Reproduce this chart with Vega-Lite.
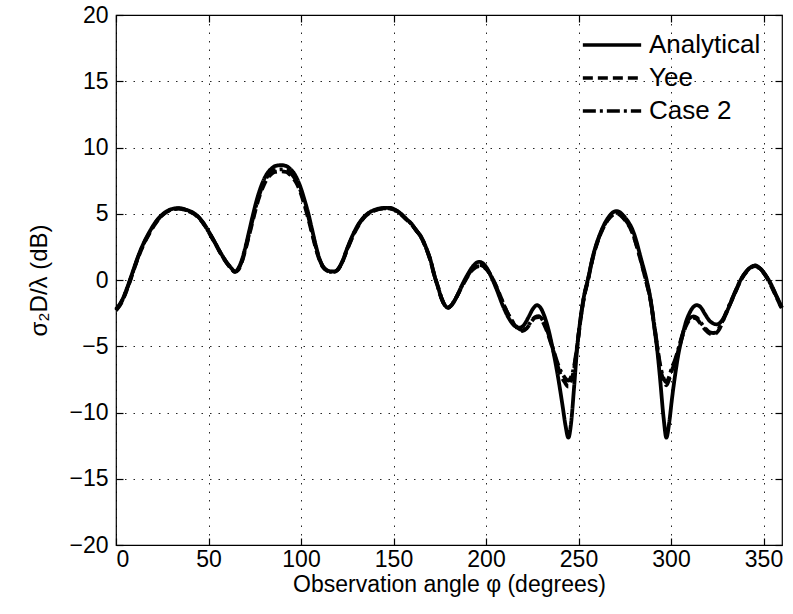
{
  "$schema": "https://vega.github.io/schema/vega-lite/v6.json",
  "width": 666,
  "height": 530,
  "autosize": {"type": "none"},
  "padding": {"left": 116, "top": 15, "right": 11, "bottom": 69},
  "background": "white",
  "config": {
    "view": {"stroke": "black", "strokeWidth": 1.2},
    "font": "Liberation Sans",
    "axis": {
      "labelFont": "Liberation Sans", "labelFontSize": 23, "labelColor": "black",
      "titleFont": "Liberation Sans", "titleFontSize": 23, "titleFontWeight": "normal", "titleColor": "black",
      "domain": false, "tickColor": "black", "tickSize": -7, "tickWidth": 1.2,
      "gridColor": "black", "gridDash": [1.5, 7], "gridWidth": 1, "gridOpacity": 0.85
    },
    "legend": {
      "orient": "none", "legendX": 465, "legendY": 18,
      "labelFont": "Liberation Sans", "labelFontSize": 26, "labelColor": "black",
      "symbolType": "stroke", "symbolSize": 3400, "symbolStrokeWidth": 3.5, "symbolStrokeColor": "black",
      "clipHeight": 24, "rowPadding": 7, "labelOffset": 6
    }
  },
  "datasets": {
    "curves": [
      {"series":"Analytical","phi":0,"rcs":-2.2},{"series":"Analytical","phi":3,"rcs":-1.6},{"series":"Analytical","phi":6,"rcs":-0.6},{"series":"Analytical","phi":9,"rcs":0.6},{"series":"Analytical","phi":12,"rcs":1.8},{"series":"Analytical","phi":15,"rcs":2.8},{"series":"Analytical","phi":18,"rcs":3.6},{"series":"Analytical","phi":21,"rcs":4.3},{"series":"Analytical","phi":24,"rcs":4.8},{"series":"Analytical","phi":27,"rcs":5.15},{"series":"Analytical","phi":30,"rcs":5.35},{"series":"Analytical","phi":33.8,"rcs":5.42},{"series":"Analytical","phi":39,"rcs":5.25},{"series":"Analytical","phi":42,"rcs":5.05},{"series":"Analytical","phi":45,"rcs":4.7},{"series":"Analytical","phi":48,"rcs":4.15},{"series":"Analytical","phi":51,"rcs":3.45},{"series":"Analytical","phi":54,"rcs":2.7},{"series":"Analytical","phi":57,"rcs":1.95},{"series":"Analytical","phi":60,"rcs":1.3},{"series":"Analytical","phi":62,"rcs":0.95},{"series":"Analytical","phi":64.3,"rcs":0.65},{"series":"Analytical","phi":66,"rcs":0.85},{"series":"Analytical","phi":68,"rcs":1.5},{"series":"Analytical","phi":70,"rcs":2.5},{"series":"Analytical","phi":72,"rcs":3.7},{"series":"Analytical","phi":74,"rcs":4.9},{"series":"Analytical","phi":76,"rcs":6.0},{"series":"Analytical","phi":78,"rcs":6.9},{"series":"Analytical","phi":80,"rcs":7.6},{"series":"Analytical","phi":82,"rcs":8.1},{"series":"Analytical","phi":84,"rcs":8.4},{"series":"Analytical","phi":86,"rcs":8.6},{"series":"Analytical","phi":89.4,"rcs":8.67},{"series":"Analytical","phi":92,"rcs":8.6},{"series":"Analytical","phi":94,"rcs":8.4},{"series":"Analytical","phi":96,"rcs":8.1},{"series":"Analytical","phi":98,"rcs":7.6},{"series":"Analytical","phi":100,"rcs":6.9},{"series":"Analytical","phi":102,"rcs":6.0},{"series":"Analytical","phi":104,"rcs":5.0},{"series":"Analytical","phi":106,"rcs":3.8},{"series":"Analytical","phi":108,"rcs":2.6},{"series":"Analytical","phi":110,"rcs":1.6},{"series":"Analytical","phi":112,"rcs":1.0},{"series":"Analytical","phi":114,"rcs":0.75},{"series":"Analytical","phi":116,"rcs":0.65},{"series":"Analytical","phi":118,"rcs":0.65},{"series":"Analytical","phi":120,"rcs":0.8},{"series":"Analytical","phi":122,"rcs":1.3},{"series":"Analytical","phi":125,"rcs":2.4},{"series":"Analytical","phi":128,"rcs":3.4},{"series":"Analytical","phi":131,"rcs":4.2},{"series":"Analytical","phi":134,"rcs":4.75},{"series":"Analytical","phi":137,"rcs":5.1},{"series":"Analytical","phi":140,"rcs":5.3},{"series":"Analytical","phi":144,"rcs":5.43},{"series":"Analytical","phi":147.5,"rcs":5.45},{"series":"Analytical","phi":151,"rcs":5.3},{"series":"Analytical","phi":154,"rcs":5.0},{"series":"Analytical","phi":157,"rcs":4.6},{"series":"Analytical","phi":160,"rcs":4.2},{"series":"Analytical","phi":162,"rcs":3.8},{"series":"Analytical","phi":165,"rcs":3.25},{"series":"Analytical","phi":168,"rcs":2.3},{"series":"Analytical","phi":170,"rcs":1.5},{"series":"Analytical","phi":172,"rcs":0.4},{"series":"Analytical","phi":174,"rcs":-0.5},{"series":"Analytical","phi":176,"rcs":-1.4},{"series":"Analytical","phi":178,"rcs":-1.95},{"series":"Analytical","phi":179.3,"rcs":-2.08},{"series":"Analytical","phi":181,"rcs":-1.95},{"series":"Analytical","phi":184,"rcs":-1.3},{"series":"Analytical","phi":187,"rcs":-0.4},{"series":"Analytical","phi":190,"rcs":0.4},{"series":"Analytical","phi":193,"rcs":1.05},{"series":"Analytical","phi":196.3,"rcs":1.37},{"series":"Analytical","phi":200,"rcs":1.0},{"series":"Analytical","phi":203,"rcs":0.2},{"series":"Analytical","phi":206,"rcs":-0.8},{"series":"Analytical","phi":209,"rcs":-1.9},{"series":"Analytical","phi":212,"rcs":-2.8},{"series":"Analytical","phi":215,"rcs":-3.4},{"series":"Analytical","phi":218,"rcs":-3.6},{"series":"Analytical","phi":220.5,"rcs":-3.4},{"series":"Analytical","phi":223,"rcs":-2.8},{"series":"Analytical","phi":225.5,"rcs":-2.15},{"series":"Analytical","phi":227.5,"rcs":-1.9},{"series":"Analytical","phi":229.5,"rcs":-2.1},{"series":"Analytical","phi":231.5,"rcs":-2.7},{"series":"Analytical","phi":233.5,"rcs":-3.6},{"series":"Analytical","phi":235.5,"rcs":-4.8},{"series":"Analytical","phi":237.5,"rcs":-6.2},{"series":"Analytical","phi":239.5,"rcs":-7.8},{"series":"Analytical","phi":241.5,"rcs":-9.6},{"series":"Analytical","phi":243,"rcs":-11.0},{"series":"Analytical","phi":244.5,"rcs":-11.9},{"series":"Analytical","phi":246,"rcs":-10.8},{"series":"Analytical","phi":247.5,"rcs":-8.3},{"series":"Analytical","phi":249.3,"rcs":-5.1},{"series":"Analytical","phi":251,"rcs":-3.0},{"series":"Analytical","phi":253,"rcs":-1.2},{"series":"Analytical","phi":255,"rcs":0.0},{"series":"Analytical","phi":258,"rcs":1.9},{"series":"Analytical","phi":262,"rcs":3.6},{"series":"Analytical","phi":266,"rcs":4.7},{"series":"Analytical","phi":270.5,"rcs":5.2},{"series":"Analytical","phi":275,"rcs":4.75},{"series":"Analytical","phi":280,"rcs":3.5},{"series":"Analytical","phi":284,"rcs":1.5},{"series":"Analytical","phi":287,"rcs":-0.1},{"series":"Analytical","phi":289,"rcs":-1.5},{"series":"Analytical","phi":291,"rcs":-3.6},{"series":"Analytical","phi":292.5,"rcs":-5.2},{"series":"Analytical","phi":294,"rcs":-7.3},{"series":"Analytical","phi":296,"rcs":-10.4},{"series":"Analytical","phi":297.5,"rcs":-11.9},{"series":"Analytical","phi":299,"rcs":-10.8},{"series":"Analytical","phi":300.5,"rcs":-9.0},{"series":"Analytical","phi":302,"rcs":-7.4},{"series":"Analytical","phi":304,"rcs":-5.6},{"series":"Analytical","phi":306,"rcs":-4.3},{"series":"Analytical","phi":308,"rcs":-3.2},{"series":"Analytical","phi":310,"rcs":-2.5},{"series":"Analytical","phi":312,"rcs":-2.05},{"series":"Analytical","phi":314,"rcs":-1.9},{"series":"Analytical","phi":316,"rcs":-2.05},{"series":"Analytical","phi":318.5,"rcs":-2.6},{"series":"Analytical","phi":321,"rcs":-3.1},{"series":"Analytical","phi":324.8,"rcs":-3.35},{"series":"Analytical","phi":327,"rcs":-3.15},{"series":"Analytical","phi":329.5,"rcs":-2.6},{"series":"Analytical","phi":332,"rcs":-1.8},{"series":"Analytical","phi":335,"rcs":-0.8},{"series":"Analytical","phi":338,"rcs":0.1},{"series":"Analytical","phi":341,"rcs":0.7},{"series":"Analytical","phi":343.5,"rcs":1.0},{"series":"Analytical","phi":345.5,"rcs":1.1},{"series":"Analytical","phi":348,"rcs":0.9},{"series":"Analytical","phi":351,"rcs":0.4},{"series":"Analytical","phi":354,"rcs":-0.3},{"series":"Analytical","phi":357,"rcs":-1.2},{"series":"Analytical","phi":360,"rcs":-2.1},

      {"series":"Yee","phi":0,"rcs":-2.3},{"series":"Yee","phi":3,"rcs":-1.7},{"series":"Yee","phi":6,"rcs":-0.7},{"series":"Yee","phi":9,"rcs":0.5},{"series":"Yee","phi":12,"rcs":1.7},{"series":"Yee","phi":15,"rcs":2.7},{"series":"Yee","phi":18,"rcs":3.5},{"series":"Yee","phi":21,"rcs":4.2},{"series":"Yee","phi":24,"rcs":4.75},{"series":"Yee","phi":27,"rcs":5.1},{"series":"Yee","phi":30,"rcs":5.3},{"series":"Yee","phi":33.8,"rcs":5.38},{"series":"Yee","phi":39,"rcs":5.2},{"series":"Yee","phi":42,"rcs":5.0},{"series":"Yee","phi":45,"rcs":4.65},{"series":"Yee","phi":48,"rcs":4.1},{"series":"Yee","phi":51,"rcs":3.4},{"series":"Yee","phi":54,"rcs":2.65},{"series":"Yee","phi":57,"rcs":1.9},{"series":"Yee","phi":60,"rcs":1.25},{"series":"Yee","phi":62,"rcs":0.9},{"series":"Yee","phi":64.3,"rcs":0.6},{"series":"Yee","phi":66,"rcs":0.75},{"series":"Yee","phi":68,"rcs":1.35},{"series":"Yee","phi":70,"rcs":2.3},{"series":"Yee","phi":72,"rcs":3.4},{"series":"Yee","phi":74,"rcs":4.5},{"series":"Yee","phi":76,"rcs":5.6},{"series":"Yee","phi":78,"rcs":6.5},{"series":"Yee","phi":80,"rcs":7.2},{"series":"Yee","phi":82,"rcs":7.7},{"series":"Yee","phi":84,"rcs":8.0},{"series":"Yee","phi":86,"rcs":8.15},{"series":"Yee","phi":89.4,"rcs":8.2},{"series":"Yee","phi":92,"rcs":8.15},{"series":"Yee","phi":94,"rcs":7.95},{"series":"Yee","phi":96,"rcs":7.65},{"series":"Yee","phi":98,"rcs":7.2},{"series":"Yee","phi":100,"rcs":6.5},{"series":"Yee","phi":102,"rcs":5.6},{"series":"Yee","phi":104,"rcs":4.6},{"series":"Yee","phi":106,"rcs":3.5},{"series":"Yee","phi":108,"rcs":2.4},{"series":"Yee","phi":110,"rcs":1.5},{"series":"Yee","phi":112,"rcs":0.95},{"series":"Yee","phi":114,"rcs":0.7},{"series":"Yee","phi":116,"rcs":0.6},{"series":"Yee","phi":118,"rcs":0.62},{"series":"Yee","phi":120,"rcs":0.8},{"series":"Yee","phi":122,"rcs":1.25},{"series":"Yee","phi":125,"rcs":2.3},{"series":"Yee","phi":128,"rcs":3.3},{"series":"Yee","phi":131,"rcs":4.1},{"series":"Yee","phi":134,"rcs":4.7},{"series":"Yee","phi":137,"rcs":5.05},{"series":"Yee","phi":140,"rcs":5.25},{"series":"Yee","phi":144,"rcs":5.38},{"series":"Yee","phi":147.5,"rcs":5.4},{"series":"Yee","phi":151,"rcs":5.25},{"series":"Yee","phi":154,"rcs":4.95},{"series":"Yee","phi":157,"rcs":4.55},{"series":"Yee","phi":160,"rcs":4.15},{"series":"Yee","phi":162,"rcs":3.8},{"series":"Yee","phi":165,"rcs":3.2},{"series":"Yee","phi":168,"rcs":2.25},{"series":"Yee","phi":170,"rcs":1.45},{"series":"Yee","phi":172,"rcs":0.4},{"series":"Yee","phi":174,"rcs":-0.5},{"series":"Yee","phi":176,"rcs":-1.4},{"series":"Yee","phi":178,"rcs":-1.95},{"series":"Yee","phi":179.5,"rcs":-2.1},{"series":"Yee","phi":181,"rcs":-1.95},{"series":"Yee","phi":184,"rcs":-1.3},{"series":"Yee","phi":187,"rcs":-0.5},{"series":"Yee","phi":190,"rcs":0.25},{"series":"Yee","phi":193,"rcs":0.8},{"series":"Yee","phi":196.5,"rcs":1.05},{"series":"Yee","phi":199,"rcs":0.95},{"series":"Yee","phi":202,"rcs":0.5},{"series":"Yee","phi":205,"rcs":-0.3},{"series":"Yee","phi":208,"rcs":-1.3},{"series":"Yee","phi":211,"rcs":-2.3},{"series":"Yee","phi":214,"rcs":-3.1},{"series":"Yee","phi":217,"rcs":-3.65},{"series":"Yee","phi":219.5,"rcs":-3.85},{"series":"Yee","phi":222,"rcs":-3.65},{"series":"Yee","phi":224.5,"rcs":-3.15},{"series":"Yee","phi":226.5,"rcs":-2.85},{"series":"Yee","phi":228.5,"rcs":-2.8},{"series":"Yee","phi":230.5,"rcs":-3.1},{"series":"Yee","phi":232.5,"rcs":-3.7},{"series":"Yee","phi":234.5,"rcs":-4.5},{"series":"Yee","phi":236.5,"rcs":-5.4},{"series":"Yee","phi":238.5,"rcs":-6.4},{"series":"Yee","phi":240.5,"rcs":-7.2},{"series":"Yee","phi":242.5,"rcs":-7.7},{"series":"Yee","phi":244.5,"rcs":-8.05},{"series":"Yee","phi":246,"rcs":-7.6},{"series":"Yee","phi":247.5,"rcs":-6.8},{"series":"Yee","phi":249.3,"rcs":-5.0},{"series":"Yee","phi":251,"rcs":-3.1},{"series":"Yee","phi":253,"rcs":-1.3},{"series":"Yee","phi":255,"rcs":-0.1},{"series":"Yee","phi":258,"rcs":1.8},{"series":"Yee","phi":262,"rcs":3.5},{"series":"Yee","phi":266,"rcs":4.55},{"series":"Yee","phi":270.5,"rcs":5.0},{"series":"Yee","phi":275,"rcs":4.55},{"series":"Yee","phi":279,"rcs":3.6},{"series":"Yee","phi":283,"rcs":1.8},{"series":"Yee","phi":286,"rcs":0.2},{"series":"Yee","phi":289,"rcs":-1.6},{"series":"Yee","phi":291,"rcs":-3.5},{"series":"Yee","phi":292.5,"rcs":-5.0},{"series":"Yee","phi":294,"rcs":-6.5},{"series":"Yee","phi":295.5,"rcs":-7.4},{"series":"Yee","phi":297.5,"rcs":-7.95},{"series":"Yee","phi":299,"rcs":-7.5},{"series":"Yee","phi":300.5,"rcs":-6.8},{"series":"Yee","phi":302,"rcs":-6.3},{"series":"Yee","phi":304,"rcs":-5.3},{"series":"Yee","phi":306,"rcs":-4.3},{"series":"Yee","phi":308,"rcs":-3.5},{"series":"Yee","phi":310,"rcs":-3.0},{"series":"Yee","phi":312.2,"rcs":-2.85},{"series":"Yee","phi":314,"rcs":-2.95},{"series":"Yee","phi":316,"rcs":-3.3},{"series":"Yee","phi":318.5,"rcs":-3.75},{"series":"Yee","phi":321,"rcs":-4.05},{"series":"Yee","phi":323.2,"rcs":-4.1},{"series":"Yee","phi":325.5,"rcs":-3.85},{"series":"Yee","phi":327.5,"rcs":-3.3},{"series":"Yee","phi":329.5,"rcs":-2.6},{"series":"Yee","phi":332,"rcs":-1.8},{"series":"Yee","phi":335,"rcs":-0.85},{"series":"Yee","phi":338,"rcs":0.05},{"series":"Yee","phi":341,"rcs":0.65},{"series":"Yee","phi":343.5,"rcs":0.95},{"series":"Yee","phi":345.5,"rcs":1.05},{"series":"Yee","phi":348,"rcs":0.85},{"series":"Yee","phi":351,"rcs":0.35},{"series":"Yee","phi":354,"rcs":-0.4},{"series":"Yee","phi":357,"rcs":-1.3},{"series":"Yee","phi":360,"rcs":-2.2},

      {"series":"Case 2","phi":0,"rcs":-2.25},{"series":"Case 2","phi":3,"rcs":-1.65},{"series":"Case 2","phi":6,"rcs":-0.65},{"series":"Case 2","phi":9,"rcs":0.55},{"series":"Case 2","phi":12,"rcs":1.75},{"series":"Case 2","phi":15,"rcs":2.75},{"series":"Case 2","phi":18,"rcs":3.55},{"series":"Case 2","phi":21,"rcs":4.25},{"series":"Case 2","phi":24,"rcs":4.78},{"series":"Case 2","phi":27,"rcs":5.12},{"series":"Case 2","phi":30,"rcs":5.32},{"series":"Case 2","phi":33.8,"rcs":5.4},{"series":"Case 2","phi":39,"rcs":5.22},{"series":"Case 2","phi":42,"rcs":5.02},{"series":"Case 2","phi":45,"rcs":4.68},{"series":"Case 2","phi":48,"rcs":4.12},{"series":"Case 2","phi":51,"rcs":3.42},{"series":"Case 2","phi":54,"rcs":2.68},{"series":"Case 2","phi":57,"rcs":1.92},{"series":"Case 2","phi":60,"rcs":1.28},{"series":"Case 2","phi":62,"rcs":0.92},{"series":"Case 2","phi":64.3,"rcs":0.62},{"series":"Case 2","phi":66,"rcs":0.8},{"series":"Case 2","phi":68,"rcs":1.4},{"series":"Case 2","phi":70,"rcs":2.4},{"series":"Case 2","phi":72,"rcs":3.5},{"series":"Case 2","phi":74,"rcs":4.65},{"series":"Case 2","phi":76,"rcs":5.75},{"series":"Case 2","phi":78,"rcs":6.65},{"series":"Case 2","phi":80,"rcs":7.35},{"series":"Case 2","phi":82,"rcs":7.85},{"series":"Case 2","phi":84,"rcs":8.15},{"series":"Case 2","phi":86,"rcs":8.3},{"series":"Case 2","phi":89.4,"rcs":8.35},{"series":"Case 2","phi":92,"rcs":8.3},{"series":"Case 2","phi":94,"rcs":8.1},{"series":"Case 2","phi":96,"rcs":7.8},{"series":"Case 2","phi":98,"rcs":7.35},{"series":"Case 2","phi":100,"rcs":6.65},{"series":"Case 2","phi":102,"rcs":5.75},{"series":"Case 2","phi":104,"rcs":4.75},{"series":"Case 2","phi":106,"rcs":3.6},{"series":"Case 2","phi":108,"rcs":2.5},{"series":"Case 2","phi":110,"rcs":1.55},{"series":"Case 2","phi":112,"rcs":0.98},{"series":"Case 2","phi":114,"rcs":0.72},{"series":"Case 2","phi":116,"rcs":0.62},{"series":"Case 2","phi":118,"rcs":0.64},{"series":"Case 2","phi":120,"rcs":0.82},{"series":"Case 2","phi":122,"rcs":1.28},{"series":"Case 2","phi":125,"rcs":2.35},{"series":"Case 2","phi":128,"rcs":3.35},{"series":"Case 2","phi":131,"rcs":4.15},{"series":"Case 2","phi":134,"rcs":4.72},{"series":"Case 2","phi":137,"rcs":5.08},{"series":"Case 2","phi":140,"rcs":5.28},{"series":"Case 2","phi":144,"rcs":5.4},{"series":"Case 2","phi":147.5,"rcs":5.42},{"series":"Case 2","phi":151,"rcs":5.28},{"series":"Case 2","phi":154,"rcs":4.98},{"series":"Case 2","phi":157,"rcs":4.58},{"series":"Case 2","phi":160,"rcs":4.18},{"series":"Case 2","phi":162,"rcs":3.8},{"series":"Case 2","phi":165,"rcs":3.22},{"series":"Case 2","phi":168,"rcs":2.28},{"series":"Case 2","phi":170,"rcs":1.48},{"series":"Case 2","phi":172,"rcs":0.4},{"series":"Case 2","phi":174,"rcs":-0.5},{"series":"Case 2","phi":176,"rcs":-1.4},{"series":"Case 2","phi":178,"rcs":-1.95},{"series":"Case 2","phi":179.5,"rcs":-2.1},{"series":"Case 2","phi":181,"rcs":-1.95},{"series":"Case 2","phi":184,"rcs":-1.3},{"series":"Case 2","phi":187,"rcs":-0.45},{"series":"Case 2","phi":190,"rcs":0.3},{"series":"Case 2","phi":193,"rcs":0.9},{"series":"Case 2","phi":196.5,"rcs":1.15},{"series":"Case 2","phi":199,"rcs":1.0},{"series":"Case 2","phi":202,"rcs":0.5},{"series":"Case 2","phi":205,"rcs":-0.35},{"series":"Case 2","phi":208,"rcs":-1.35},{"series":"Case 2","phi":211,"rcs":-2.3},{"series":"Case 2","phi":214,"rcs":-3.05},{"series":"Case 2","phi":217,"rcs":-3.6},{"series":"Case 2","phi":219.5,"rcs":-3.8},{"series":"Case 2","phi":222,"rcs":-3.6},{"series":"Case 2","phi":224.5,"rcs":-3.1},{"series":"Case 2","phi":226.5,"rcs":-2.8},{"series":"Case 2","phi":228.5,"rcs":-2.72},{"series":"Case 2","phi":230.5,"rcs":-3.0},{"series":"Case 2","phi":232.5,"rcs":-3.6},{"series":"Case 2","phi":234.5,"rcs":-4.4},{"series":"Case 2","phi":236.5,"rcs":-5.3},{"series":"Case 2","phi":238.5,"rcs":-6.2},{"series":"Case 2","phi":240.5,"rcs":-6.9},{"series":"Case 2","phi":242.5,"rcs":-7.35},{"series":"Case 2","phi":244.5,"rcs":-7.6},{"series":"Case 2","phi":246,"rcs":-7.3},{"series":"Case 2","phi":247.5,"rcs":-6.6},{"series":"Case 2","phi":249.3,"rcs":-4.9},{"series":"Case 2","phi":251,"rcs":-3.05},{"series":"Case 2","phi":253,"rcs":-1.25},{"series":"Case 2","phi":255,"rcs":-0.05},{"series":"Case 2","phi":258,"rcs":1.85},{"series":"Case 2","phi":262,"rcs":3.55},{"series":"Case 2","phi":266,"rcs":4.6},{"series":"Case 2","phi":270.5,"rcs":5.07},{"series":"Case 2","phi":275,"rcs":4.6},{"series":"Case 2","phi":279,"rcs":3.65},{"series":"Case 2","phi":283,"rcs":1.85},{"series":"Case 2","phi":286,"rcs":0.25},{"series":"Case 2","phi":289,"rcs":-1.55},{"series":"Case 2","phi":291,"rcs":-3.4},{"series":"Case 2","phi":292.5,"rcs":-4.9},{"series":"Case 2","phi":294,"rcs":-6.3},{"series":"Case 2","phi":295.5,"rcs":-7.2},{"series":"Case 2","phi":297.5,"rcs":-7.7},{"series":"Case 2","phi":299,"rcs":-7.3},{"series":"Case 2","phi":300.5,"rcs":-6.6},{"series":"Case 2","phi":302,"rcs":-6.1},{"series":"Case 2","phi":304,"rcs":-5.2},{"series":"Case 2","phi":306,"rcs":-4.2},{"series":"Case 2","phi":308,"rcs":-3.4},{"series":"Case 2","phi":310,"rcs":-2.9},{"series":"Case 2","phi":312.2,"rcs":-2.75},{"series":"Case 2","phi":314,"rcs":-2.85},{"series":"Case 2","phi":316,"rcs":-3.2},{"series":"Case 2","phi":318.5,"rcs":-3.65},{"series":"Case 2","phi":321,"rcs":-3.95},{"series":"Case 2","phi":323.2,"rcs":-4.0},{"series":"Case 2","phi":325.5,"rcs":-3.75},{"series":"Case 2","phi":327.5,"rcs":-3.2},{"series":"Case 2","phi":329.5,"rcs":-2.55},{"series":"Case 2","phi":332,"rcs":-1.75},{"series":"Case 2","phi":335,"rcs":-0.8},{"series":"Case 2","phi":338,"rcs":0.08},{"series":"Case 2","phi":341,"rcs":0.68},{"series":"Case 2","phi":343.5,"rcs":0.98},{"series":"Case 2","phi":345.5,"rcs":1.08},{"series":"Case 2","phi":348,"rcs":0.88},{"series":"Case 2","phi":351,"rcs":0.38},{"series":"Case 2","phi":354,"rcs":-0.35},{"series":"Case 2","phi":357,"rcs":-1.25},{"series":"Case 2","phi":360,"rcs":-2.15}
    ]
  },
  "data": {"name": "curves"},
  "layer": [
    {
      "mark": {"type": "line", "strokeWidth": 3.8, "color": "black", "interpolate": "monotone"},
      "encoding": {
        "x": {"field": "phi", "type": "quantitative", "scale": {"domain": [0, 360], "nice": false},
              "axis": {"values": [0, 50, 100, 150, 200, 250, 300, 350], "title": "Observation angle φ (degrees)", "labelPadding": 10, "titlePadding": 2, "grid": true}},
        "y": {"field": "rcs", "type": "quantitative", "scale": {"domain": [-20, 20], "nice": false},
              "axis": {"values": [-20, -15, -10, -5, 0, 5, 10, 15, 20], "format": "d", "title": "σ₂D/λ (dB)", "titleFontSize": 24, "labelPadding": 15, "titlePadding": 17, "grid": true}},
        "strokeDash": {"field": "series", "type": "nominal",
              "scale": {"domain": ["Analytical", "Yee", "Case 2"], "range": [[1, 0], [10, 5], [13, 4, 3, 4]]},
              "legend": {"title": null}}
      }
    },
    {
      "mark": {"type": "line", "strokeOpacity": 0},
      "encoding": {
        "x": {"field": "phi", "type": "quantitative", "scale": {"domain": [0, 360], "nice": false},
              "axis": {"orient": "top", "values": [0, 50, 100, 150, 200, 250, 300, 350], "labels": false, "title": null, "grid": false}},
        "y": {"field": "rcs", "type": "quantitative", "scale": {"domain": [-20, 20], "nice": false},
              "axis": {"orient": "right", "values": [-20, -15, -10, -5, 0, 5, 10, 15, 20], "labels": false, "title": null, "grid": false}},
        "detail": {"field": "series", "type": "nominal"}
      }
    }
  ],
  "resolve": {"axis": {"x": "independent", "y": "independent"}}
}
